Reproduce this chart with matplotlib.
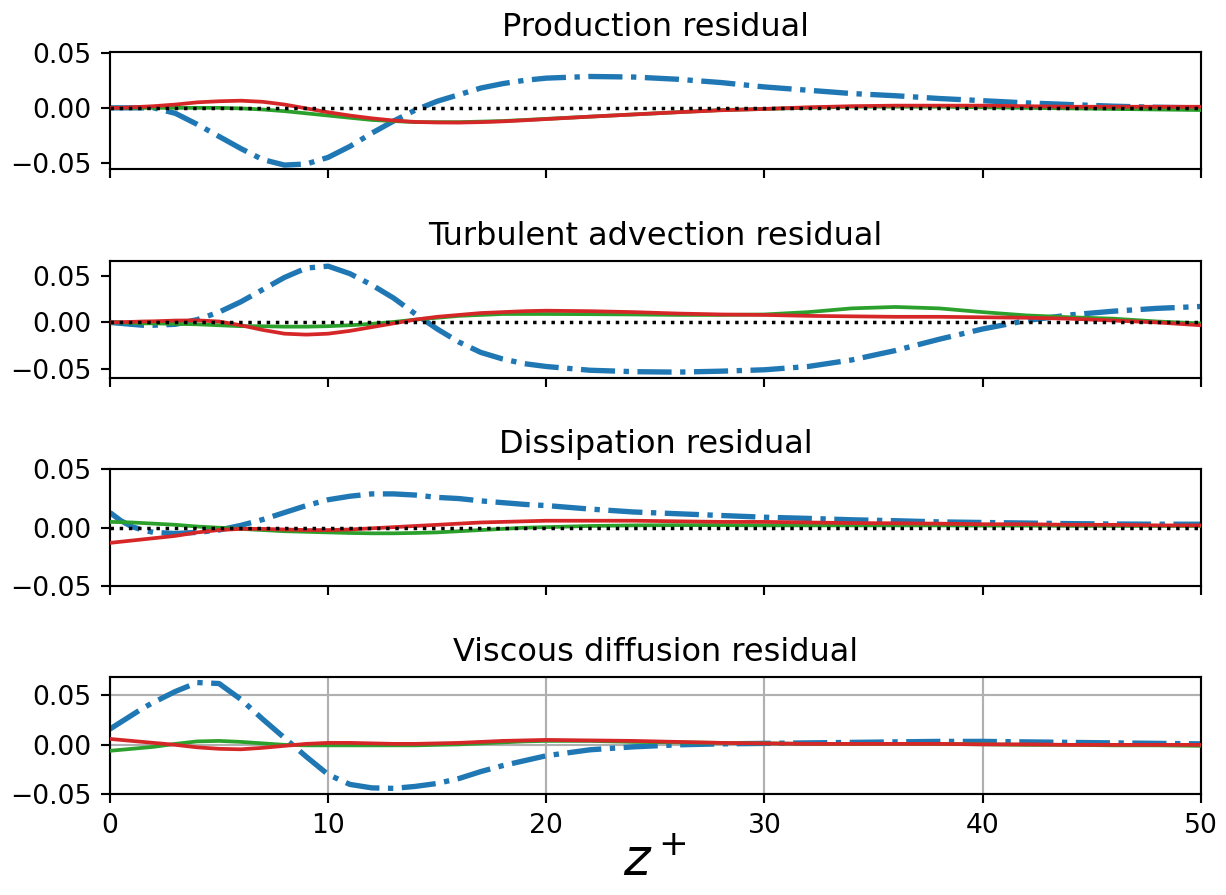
import matplotlib
matplotlib.use("Agg")
import matplotlib.pyplot as plt

# common z+ sample positions
z = [0, 0.5, 1, 1.5, 2, 3, 4, 5, 6, 7, 8, 9, 10, 11, 12, 13, 14, 15, 16, 17, 18, 19, 20,
     22, 24, 26, 28, 30, 32, 34, 36, 38, 40, 42, 44, 46, 48, 50]

titles = ["Production residual", "Turbulent advection residual",
          "Dissipation residual", "Viscous diffusion residual"]

# Production residual
prod_blue = [0, 0, 0, 0, 0, -0.005, -0.015, -0.026, -0.037, -0.047, -0.052, -0.051, -0.045,
             -0.035, -0.023, -0.012, -0.002, 0.006, 0.012, 0.018, 0.022, 0.025, 0.027,
             0.0285, 0.028, 0.026, 0.023, 0.019, 0.016, 0.013, 0.011, 0.0085, 0.0065,
             0.0045, 0.003, 0.0015, 0.0005, 0.0]
prod_green = [0, 0, 0, 0, 0, 0, 0, 0, -0.0005, -0.0015, -0.003, -0.005, -0.007, -0.009,
              -0.011, -0.012, -0.013, -0.013, -0.013, -0.0125, -0.012, -0.011, -0.010,
              -0.008, -0.006, -0.004, -0.002, -0.001, 0.0, 0.001, 0.001, 0.001, 0.0005,
              0.0, -0.0005, -0.001, -0.0015, -0.002]
prod_red = [0, 0, 0.0005, 0.001, 0.0015, 0.003, 0.005, 0.006, 0.0065, 0.0055, 0.003, -0.0005,
            -0.004, -0.007, -0.0095, -0.0115, -0.0128, -0.0133, -0.0134, -0.013, -0.0123,
            -0.0113, -0.0102, -0.008, -0.006, -0.004, -0.0022, -0.001, 0.0005, 0.0015, 0.002,
            0.002, 0.002, 0.0015, 0.001, 0.001, 0.001, 0.001]

# Turbulent advection residual
adv_blue = [0, -0.001, -0.002, -0.003, -0.003, -0.002, 0.003, 0.011, 0.022, 0.035, 0.048,
            0.058, 0.060, 0.052, 0.040, 0.026, 0.009, -0.007, -0.021, -0.032, -0.039,
            -0.044, -0.047, -0.051, -0.0525, -0.053, -0.052, -0.0505, -0.047, -0.040,
            -0.030, -0.018, -0.007, 0.002, 0.008, 0.012, 0.015, 0.017]
adv_green = [0, 0, -0.0005, -0.001, -0.001, -0.0015, -0.002, -0.003, -0.004, -0.004,
             -0.0045, -0.0045, -0.004, -0.003, -0.0015, 0.0005, 0.003, 0.005, 0.007, 0.008,
             0.009, 0.009, 0.009, 0.0088, 0.0085, 0.008, 0.008, 0.0085, 0.011, 0.015,
             0.0165, 0.015, 0.011, 0.0075, 0.0055, 0.004, 0.001, -0.001]
adv_red = [0, 0.0003, 0.0006, 0.001, 0.0012, 0.002, 0.0022, 0.001, -0.003, -0.008, -0.012,
           -0.013, -0.012, -0.009, -0.005, -0.001, 0.003, 0.006, 0.008, 0.010, 0.011,
           0.012, 0.0125, 0.012, 0.011, 0.0095, 0.0085, 0.008, 0.007, 0.0065, 0.006, 0.006,
           0.0055, 0.005, 0.004, 0.002, 0.0, -0.003]

# Dissipation residual
dis_blue = [0.013, 0.006, 0.001, -0.002, -0.004, -0.005, -0.004, -0.002, 0.002, 0.007,
            0.013, 0.019, 0.024, 0.027, 0.029, 0.029, 0.028, 0.026, 0.025, 0.023, 0.0215,
            0.020, 0.019, 0.016, 0.0135, 0.012, 0.0105, 0.009, 0.008, 0.0068, 0.006, 0.005,
            0.0045, 0.004, 0.0035, 0.0032, 0.003, 0.003]
dis_green = [0.005, 0.0048, 0.0045, 0.004, 0.0035, 0.0025, 0.001, 0.0, -0.001, -0.002,
             -0.003, -0.0035, -0.004, -0.0045, -0.0048, -0.0048, -0.0045, -0.004, -0.003,
             -0.002, -0.001, 0.0, 0.0005, 0.0015, 0.002, 0.0022, 0.0022, 0.002, 0.002,
             0.002, 0.002, 0.002, 0.0018, 0.0018, 0.0016, 0.0015, 0.0015, 0.0015]
dis_red = [-0.013, -0.012, -0.011, -0.010, -0.009, -0.007, -0.004, -0.002, -0.001, -0.001,
           -0.0015, -0.002, -0.002, -0.0015, -0.0005, 0.0005, 0.0015, 0.0025, 0.0035,
           0.0045, 0.005, 0.0055, 0.006, 0.006, 0.006, 0.0055, 0.005, 0.005, 0.0045, 0.004,
           0.0038, 0.0035, 0.003, 0.003, 0.0025, 0.0025, 0.002, 0.002]

# Viscous diffusion residual
vis_blue = [0.016, 0.023, 0.030, 0.037, 0.043, 0.054, 0.063, 0.062, 0.046, 0.026, 0.007,
            -0.012, -0.030, -0.040, -0.0435, -0.044, -0.042, -0.039, -0.034, -0.027,
            -0.021, -0.016, -0.011, -0.005, -0.002, 0.0, 0.001, 0.0015, 0.002, 0.0025,
            0.003, 0.0035, 0.0035, 0.003, 0.0025, 0.002, 0.0015, 0.001]
vis_green = [-0.006, -0.005, -0.004, -0.003, -0.002, 0.001, 0.0035, 0.004, 0.003, 0.0015,
             0.0, -0.0005, -0.0005, -0.0005, -0.0005, -0.0005, -0.0005, 0.0, 0.0005,
             0.0015, 0.0025, 0.0035, 0.004, 0.004, 0.003, 0.0025, 0.002, 0.0015, 0.001,
             0.001, 0.001, 0.001, 0.0005, 0.0, 0.0, -0.0005, -0.0005, -0.001]
vis_red = [0.006, 0.005, 0.004, 0.003, 0.002, 0.0, -0.0025, -0.004, -0.0045, -0.003, -0.001,
           0.001, 0.002, 0.002, 0.0015, 0.001, 0.001, 0.0015, 0.002, 0.003, 0.004, 0.0045,
           0.005, 0.0045, 0.004, 0.003, 0.002, 0.0015, 0.001, 0.001, 0.001, 0.001, 0.0005,
           0.0005, 0.0, 0.0, 0.0, 0.0]

blue_series = [prod_blue, adv_blue, dis_blue, vis_blue]
green_series = [prod_green, adv_green, dis_green, vis_green]
red_series = [prod_red, adv_red, dis_red, vis_red]

ylims = [(-0.056, 0.0505), (-0.059, 0.066), (-0.05, 0.0505), (-0.05, 0.0685)]
yticks = [-0.05, 0.0, 0.05]
xticks = [0, 10, 20, 30, 40, 50]

dpi = 192
fig, axes = plt.subplots(4, 1, sharex=True, figsize=(1226 / dpi, 895 / dpi), dpi=dpi)
fig.subplots_adjust(left=0.0897, right=0.9794, top=0.9416, bottom=0.1125, hspace=0.777)

for i, ax in enumerate(axes):
    ax.plot(z, blue_series[i], color="#1f77b4", lw=2.0, ls="-.", zorder=2)
    ax.plot(z, green_series[i], color="#2ca02c", lw=1.4, zorder=3)
    ax.plot(z, red_series[i], color="#d62728", lw=1.4, zorder=4)
    if i < 3:
        ax.axhline(0, color="black", lw=1.3, ls=":", zorder=5)
    else:
        ax.grid(True, color="#b0b0b0", lw=0.8)
    ax.set_title(titles[i], fontsize=12)
    ax.set_ylim(*ylims[i])
    ax.set_yticks(yticks)
    ax.set_xlim(0, 50)
    ax.set_xticks(xticks)
    ax.tick_params(labelsize=10)

axes[-1].set_xlabel(r"$z^+$", fontsize=19, labelpad=-1)

fig.savefig("out.png", dpi=dpi)
